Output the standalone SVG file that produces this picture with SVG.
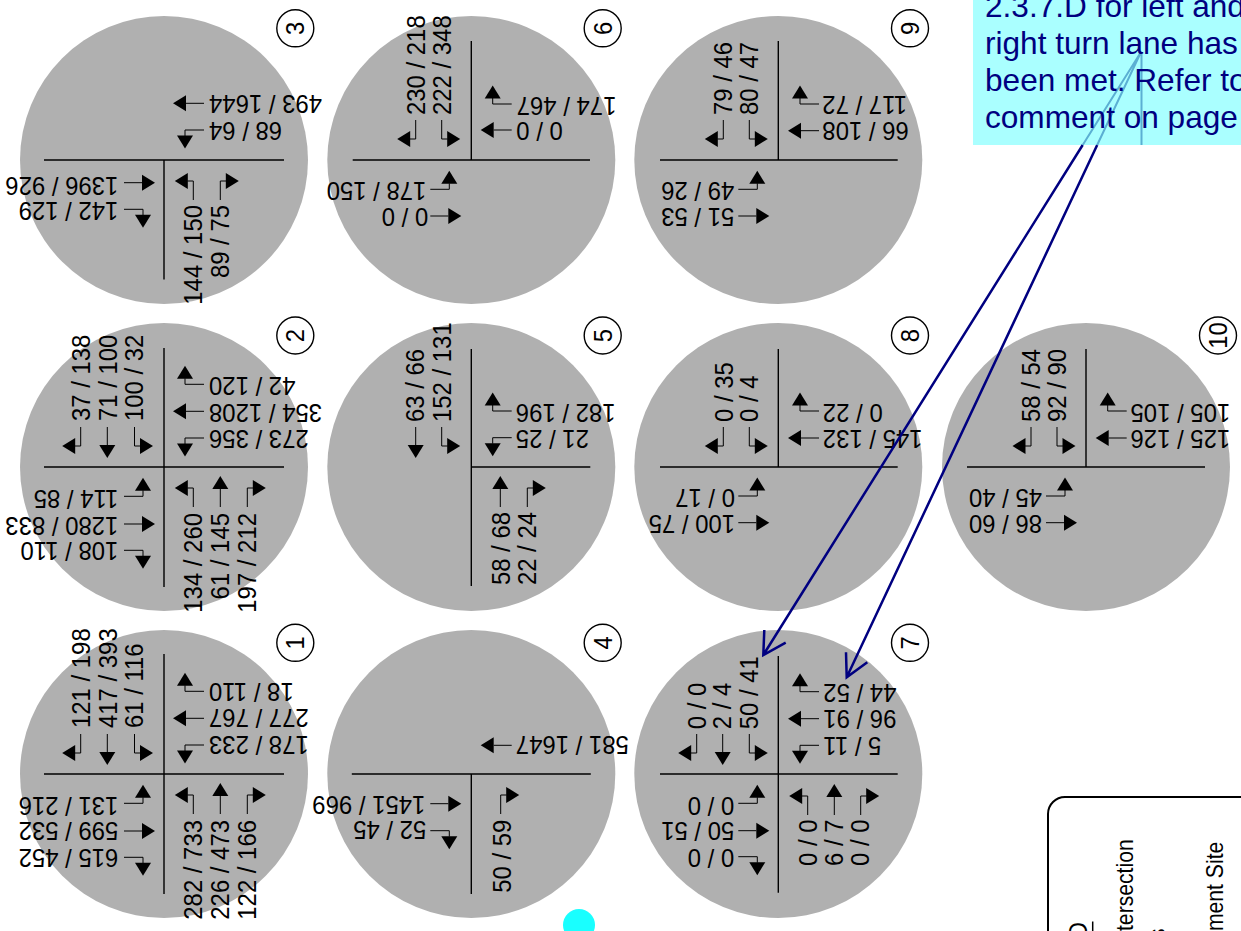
<svg xmlns="http://www.w3.org/2000/svg" width="1241" height="931" viewBox="0 0 1241 931">
<style>
text{font-family:"Liberation Sans",Arial,sans-serif;font-size:26px;fill:#000}
.a{text-anchor:start}
.b{text-anchor:end}
.m{text-anchor:middle}
.big{fill:#b0b0b0}
.x{stroke:#000;stroke-width:1.4;fill:none}
.num{fill:#fff;stroke:#000;stroke-width:1.4}
.s{stroke:#000;stroke-width:1;fill:none}
.lg{font-size:23px}
.note{font-size:31.600px;fill:#000080}
.c{stroke:#000080;stroke-width:2.5;fill:none}
.cl{stroke:#5bafd3;stroke-width:2;fill:none}
</style>
<defs>
<g id="t"><path class="s" d="M0 0V18"/><path d="M-8 18H8L0 31z"/></g>
<g id="r"><path class="s" d="M0 0V19H6"/><path d="M5.500 11V27L18.500 19z"/></g>
<g id="l"><path class="s" d="M0 0V19H-6"/><path d="M-5.500 11V27L-18.500 19z"/></g>
</defs>

<g id="legend">
<rect x="1048" y="797" width="300" height="300" rx="17" fill="#fff" stroke="#000" stroke-width="2"/>
<text class="b" transform="translate(1087 922) rotate(-90) scale(.92 1)">D</text>
<path d="M1092.700 921.500V931" stroke="#000" stroke-width="1.500"/>
<text class="a lg" transform="translate(1133.300 931) rotate(-90) scale(.92 1)">tersection</text>
<text class="b lg" transform="translate(1165 928.500) rotate(-90) scale(.92 1)">s</text>
<text class="a lg" transform="translate(1223.300 931) rotate(-90) scale(.92 1)">ment Site</text>
</g>

<g id="intersection-1" transform="translate(164 774)">
<circle class="big" r="144"/>
<path class="x" d="M-120 0H120M0 -120V120"/>
<use href="#l" transform="translate(-83.300 -40)"/><use href="#t" transform="translate(-56.700 -40)"/><use href="#r" transform="translate(-29.500 -40)"/>
<use href="#r" transform="translate(29.300 40) rotate(180)"/><use href="#t" transform="translate(56.300 40) rotate(180)"/><use href="#l" transform="translate(83.300 40) rotate(180)"/>
<use href="#r" transform="translate(-40 29.300) rotate(-90)"/><use href="#t" transform="translate(-40 57) rotate(-90)"/><use href="#l" transform="translate(-40 83.300) rotate(-90)"/>
<use href="#l" transform="translate(40 -82.700) rotate(90)"/><use href="#t" transform="translate(40 -55.700) rotate(90)"/><use href="#r" transform="translate(40 -29) rotate(90)"/>
<text class="a" transform="translate(-74 -46) rotate(-90) scale(.92 1)">121 / 198</text>
<text class="a" transform="translate(-47.500 -46) rotate(-90) scale(.92 1)">417 / 393</text>
<text class="a" transform="translate(-21 -46) rotate(-90) scale(.92 1)">61 / 116</text>
<text class="b" transform="translate(38.300 46) rotate(-90) scale(.92 1)">282 / 733</text>
<text class="b" transform="translate(65.300 46) rotate(-90) scale(.92 1)">226 / 473</text>
<text class="b" transform="translate(91.700 46) rotate(-90) scale(.92 1)">122 / 166</text>
<text class="a" transform="translate(-45.700 22.700) rotate(180) scale(.92 1)">131 / 216</text>
<text class="a" transform="translate(-45.700 48.300) rotate(180) scale(.92 1)">599 / 532</text>
<text class="a" transform="translate(-45.700 75) rotate(180) scale(.92 1)">615 / 452</text>
<text class="b" transform="translate(45 -90.700) rotate(180) scale(.92 1)">18 / 110</text>
<text class="b" transform="translate(45 -64.700) rotate(180) scale(.92 1)">277 / 767</text>
<text class="b" transform="translate(45 -38) rotate(180) scale(.92 1)">178 / 233</text>
<circle class="num" cx="131.300" cy="-131.200" r="18.500"/>
<text class="m" transform="translate(140.300 -131.200) rotate(-90) scale(.92 1)">1</text>
</g>

<g id="intersection-2" transform="translate(164 467)">
<circle class="big" r="144"/>
<path class="x" d="M-120 0H120M0 -119V120"/>
<use href="#l" transform="translate(-83.300 -40)"/><use href="#t" transform="translate(-56.700 -40)"/><use href="#r" transform="translate(-29.500 -40)"/>
<use href="#r" transform="translate(29.300 40) rotate(180)"/><use href="#t" transform="translate(56.300 40) rotate(180)"/><use href="#l" transform="translate(83.300 40) rotate(180)"/>
<use href="#r" transform="translate(-40 29.300) rotate(-90)"/><use href="#t" transform="translate(-40 57) rotate(-90)"/><use href="#l" transform="translate(-40 83.300) rotate(-90)"/>
<use href="#l" transform="translate(40 -82.700) rotate(90)"/><use href="#t" transform="translate(40 -55.700) rotate(90)"/><use href="#r" transform="translate(40 -29) rotate(90)"/>
<text class="a" transform="translate(-74 -46) rotate(-90) scale(.92 1)">37 / 138</text>
<text class="a" transform="translate(-47.500 -46) rotate(-90) scale(.92 1)">71 / 100</text>
<text class="a" transform="translate(-21 -46) rotate(-90) scale(.92 1)">100 / 32</text>
<text class="b" transform="translate(38.300 46) rotate(-90) scale(.92 1)">134 / 260</text>
<text class="b" transform="translate(65.300 46) rotate(-90) scale(.92 1)">61 / 145</text>
<text class="b" transform="translate(91.700 46) rotate(-90) scale(.92 1)">197 / 212</text>
<text class="a" transform="translate(-45.700 23) rotate(180) scale(.92 1)">114 / 85</text>
<text class="a" transform="translate(-45.700 49.500) rotate(180) scale(.92 1)">1280 / 833</text>
<text class="a" transform="translate(-45.700 75) rotate(180) scale(.92 1)">108 / 110</text>
<text class="b" transform="translate(45 -90) rotate(180) scale(.92 1)">42 / 120</text>
<text class="b" transform="translate(45 -63.500) rotate(180) scale(.92 1)">354 / 1208</text>
<text class="b" transform="translate(45 -37.500) rotate(180) scale(.92 1)">273 / 356</text>
<circle class="num" cx="131.300" cy="-131.500" r="18.500"/>
<text class="m" transform="translate(140.300 -131.500) rotate(-90) scale(.92 1)">2</text>
</g>

<g id="intersection-3" transform="translate(164 160)">
<circle class="big" r="144"/>
<path class="x" d="M-120 0H120M0 0V119.500"/>
<use href="#r" transform="translate(29.300 40) rotate(180)"/><use href="#l" transform="translate(56.300 40) rotate(180)"/>
<use href="#t" transform="translate(-40 22.700) rotate(-90)"/><use href="#l" transform="translate(-40 49.300) rotate(-90)"/>
<use href="#t" transform="translate(40 -56.700) rotate(90)"/><use href="#r" transform="translate(40 -30) rotate(90)"/>
<text class="b" transform="translate(38.300 45) rotate(-90) scale(.92 1)">144 / 150</text>
<text class="b" transform="translate(65.300 45) rotate(-90) scale(.92 1)">89 / 75</text>
<text class="a" transform="translate(-45.700 16.700) rotate(180) scale(.92 1)">1396 / 926</text>
<text class="a" transform="translate(-45.700 41.700) rotate(180) scale(.92 1)">142 / 129</text>
<text class="b" transform="translate(45 -65) rotate(180) scale(.92 1)">493 / 1644</text>
<text class="b" transform="translate(45 -38) rotate(180) scale(.92 1)">68 / 64</text>
<circle class="num" cx="131.300" cy="-131.700" r="18.500"/>
<text class="m" transform="translate(140.300 -131.700) rotate(-90) scale(.92 1)">3</text>
</g>

<g id="intersection-4" transform="translate(471.300 774)">
<circle class="big" r="144"/>
<path class="x" d="M-119.500 0H119.500M0 0V120"/>
<use href="#l" transform="translate(29.400 40) rotate(180)"/>
<use href="#t" transform="translate(-41 29.700) rotate(-90)"/><use href="#l" transform="translate(-41 56.700) rotate(-90)"/>
<use href="#t" transform="translate(40.400 -28.700) rotate(90)"/>
<text class="b" transform="translate(39.400 45.700) rotate(-90) scale(.92 1)">50 / 59</text>
<text class="a" transform="translate(-46 21.700) rotate(180) scale(.92 1)">1451 / 969</text>
<text class="a" transform="translate(-45 47.300) rotate(180) scale(.92 1)">52 / 45</text>
<text class="b" transform="translate(44.500 -37.700) rotate(180) scale(.92 1)">581 / 1647</text>
<circle class="num" cx="131.400" cy="-131.200" r="18.500"/>
<text class="m" transform="translate(140.400 -131.200) rotate(-90) scale(.92 1)">4</text>
</g>

<g id="intersection-5" transform="translate(471.300 467)">
<circle class="big" r="144"/>
<path class="x" d="M0 0H119M0 -118V119"/>
<use href="#t" transform="translate(-55.600 -40)"/><use href="#r" transform="translate(-29.600 -40)"/>
<use href="#t" transform="translate(29 40) rotate(180)"/><use href="#l" transform="translate(56 40) rotate(180)"/>
<use href="#l" transform="translate(40.400 -56) rotate(90)"/><use href="#r" transform="translate(40.400 -29.300) rotate(90)"/>
<text class="a" transform="translate(-47.300 -45) rotate(-90) scale(.92 1)">63 / 66</text>
<text class="a" transform="translate(-20.600 -45) rotate(-90) scale(.92 1)">152 / 131</text>
<text class="b" transform="translate(38.700 45) rotate(-90) scale(.92 1)">58 / 68</text>
<text class="b" transform="translate(64.700 45) rotate(-90) scale(.92 1)">22 / 24</text>
<text class="b" transform="translate(44.500 -63.300) rotate(180) scale(.92 1)">182 / 196</text>
<text class="b" transform="translate(44.500 -37.300) rotate(180) scale(.92 1)">21 / 25</text>
<circle class="num" cx="131.400" cy="-131.500" r="18.500"/>
<text class="m" transform="translate(140.400 -131.500) rotate(-90) scale(.92 1)">5</text>
</g>

<g id="intersection-6" transform="translate(471.300 160)">
<circle class="big" r="144"/>
<path class="x" d="M-118.600 0H118.700M0 -119V0"/>
<use href="#l" transform="translate(-55.600 -40)"/><use href="#r" transform="translate(-29.600 -40)"/>
<use href="#r" transform="translate(-41 29.300) rotate(-90)"/><use href="#t" transform="translate(-41 56) rotate(-90)"/>
<use href="#l" transform="translate(40.400 -56) rotate(90)"/><use href="#t" transform="translate(40.400 -30) rotate(90)"/>
<text class="a" transform="translate(-46.300 -45) rotate(-90) scale(.92 1)">230 / 218</text>
<text class="a" transform="translate(-20.300 -45) rotate(-90) scale(.92 1)">222 / 348</text>
<text class="a" transform="translate(-45 21.700) rotate(180) scale(.92 1)">178 / 150</text>
<text class="a" transform="translate(-43 48) rotate(180) scale(.92 1)">0 / 0</text>
<text class="b" transform="translate(45.400 -63.300) rotate(180) scale(.92 1)">174 / 467</text>
<text class="b" transform="translate(45 -38.300) rotate(180) scale(.92 1)">0 / 0</text>
<circle class="num" cx="131.400" cy="-131.700" r="18.500"/>
<text class="m" transform="translate(140.400 -131.700) rotate(-90) scale(.92 1)">6</text>
</g>

<g id="intersection-7" transform="translate(778.300 774)">
<circle class="big" r="144"/>
<path class="x" d="M-118.300 0H119.400M0 -118V118.700"/>
<use href="#l" transform="translate(-81.600 -40)"/><use href="#t" transform="translate(-55.600 -40)"/><use href="#r" transform="translate(-29 -40)"/>
<use href="#r" transform="translate(29.400 41) rotate(180)"/><use href="#t" transform="translate(56 41) rotate(180)"/><use href="#l" transform="translate(82.400 41) rotate(180)"/>
<use href="#r" transform="translate(-40 29.300) rotate(-90)"/><use href="#t" transform="translate(-40 56.700) rotate(-90)"/><use href="#l" transform="translate(-40 82.700) rotate(-90)"/>
<use href="#l" transform="translate(40.700 -82.300) rotate(90)"/><use href="#t" transform="translate(40.700 -55.300) rotate(90)"/><use href="#r" transform="translate(40.700 -28.700) rotate(90)"/>
<text class="a" transform="translate(-72.300 -44.700) rotate(-90) scale(.92 1)">0 / 0</text>
<text class="a" transform="translate(-47.300 -44.700) rotate(-90) scale(.92 1)">2 / 4</text>
<text class="a" transform="translate(-20 -44.700) rotate(-90) scale(.92 1)">50 / 41</text>
<text class="b" transform="translate(38.400 45.400) rotate(-90) scale(.92 1)">0 / 0</text>
<text class="b" transform="translate(64.400 45.400) rotate(-90) scale(.92 1)">6 / 7</text>
<text class="b" transform="translate(90.400 45.400) rotate(-90) scale(.92 1)">0 / 0</text>
<text class="a" transform="translate(-44 22.700) rotate(180) scale(.92 1)">0 / 0</text>
<text class="a" transform="translate(-44 48.300) rotate(180) scale(.92 1)">50 / 51</text>
<text class="a" transform="translate(-44 75) rotate(180) scale(.92 1)">0 / 0</text>
<text class="b" transform="translate(45 -90) rotate(180) scale(.92 1)">44 / 52</text>
<text class="b" transform="translate(45 -64) rotate(180) scale(.92 1)">96 / 91</text>
<text class="b" transform="translate(45 -37.300) rotate(180) scale(.92 1)">5 / 11</text>
<circle class="num" cx="131.700" cy="-131.200" r="18.500"/>
<text class="m" transform="translate(140.700 -131.200) rotate(-90) scale(.92 1)">7</text>
</g>

<g id="intersection-8" transform="translate(778.300 467)">
<circle class="big" r="144"/>
<path class="x" d="M-118.300 0H119.400M0 -118V0"/>
<use href="#l" transform="translate(-55 -40)"/><use href="#r" transform="translate(-29 -40)"/>
<use href="#r" transform="translate(-40 29) rotate(-90)"/><use href="#t" transform="translate(-40 55.700) rotate(-90)"/>
<use href="#l" transform="translate(40.700 -56) rotate(90)"/><use href="#t" transform="translate(40.700 -29) rotate(90)"/>
<text class="a" transform="translate(-45.500 -45) rotate(-90) scale(.92 1)">0 / 35</text>
<text class="a" transform="translate(-20 -45) rotate(-90) scale(.92 1)">0 / 4</text>
<text class="a" transform="translate(-43.300 22) rotate(180) scale(.92 1)">0 / 17</text>
<text class="a" transform="translate(-43.300 48) rotate(180) scale(.92 1)">100 / 75</text>
<text class="b" transform="translate(44.500 -63.300) rotate(180) scale(.92 1)">0 / 22</text>
<text class="b" transform="translate(44.500 -37.300) rotate(180) scale(.92 1)">145 / 132</text>
<circle class="num" cx="131.700" cy="-131.500" r="18.500"/>
<text class="m" transform="translate(140.700 -131.500) rotate(-90) scale(.92 1)">8</text>
</g>

<g id="intersection-9" transform="translate(778.300 160)">
<circle class="big" r="144"/>
<path class="x" d="M-118.300 0H119.400M0 -119V0"/>
<use href="#l" transform="translate(-55 -40)"/><use href="#r" transform="translate(-29 -40)"/>
<use href="#r" transform="translate(-40 29.300) rotate(-90)"/><use href="#t" transform="translate(-40 56) rotate(-90)"/>
<use href="#l" transform="translate(40.700 -56) rotate(90)"/><use href="#t" transform="translate(40.700 -29.300) rotate(90)"/>
<text class="a" transform="translate(-46.600 -45) rotate(-90) scale(.92 1)">79 / 46</text>
<text class="a" transform="translate(-20 -45) rotate(-90) scale(.92 1)">80 / 47</text>
<text class="a" transform="translate(-44 21.700) rotate(180) scale(.92 1)">49 / 26</text>
<text class="a" transform="translate(-44 48) rotate(180) scale(.92 1)">51 / 53</text>
<text class="b" transform="translate(44 -64) rotate(180) scale(.92 1)">117 / 72</text>
<text class="b" transform="translate(44 -38.300) rotate(180) scale(.92 1)">66 / 108</text>
<circle class="num" cx="131.700" cy="-131.700" r="18.500"/>
<text class="m" transform="translate(140.700 -131.700) rotate(-90) scale(.92 1)">9</text>
</g>

<g id="intersection-10" transform="translate(1086 467)">
<circle class="big" r="144"/>
<path class="x" d="M-119 0H119M0 -118V0"/>
<use href="#l" transform="translate(-55 -40)"/><use href="#r" transform="translate(-29 -40)"/>
<use href="#r" transform="translate(-40 29) rotate(-90)"/><use href="#t" transform="translate(-40 55.700) rotate(-90)"/>
<use href="#l" transform="translate(40.700 -56) rotate(90)"/><use href="#t" transform="translate(40.700 -29) rotate(90)"/>
<text class="a" transform="translate(-46 -45) rotate(-90) scale(.92 1)">58 / 54</text>
<text class="a" transform="translate(-20 -45) rotate(-90) scale(.92 1)">92 / 90</text>
<text class="a" transform="translate(-44 22) rotate(180) scale(.92 1)">45 / 40</text>
<text class="a" transform="translate(-44 48) rotate(180) scale(.92 1)">86 / 60</text>
<text class="b" transform="translate(44.500 -63.300) rotate(180) scale(.92 1)">105 / 105</text>
<text class="b" transform="translate(44.500 -37.300) rotate(180) scale(.92 1)">125 / 126</text>
<circle class="num" cx="132" cy="-131.500" r="18.500"/>
<text class="m" transform="translate(141 -131.500) rotate(-90) scale(.92 1)">10</text>
</g>

<circle id="dot" cx="579" cy="925" r="16" fill="#19ffff"/>

<rect id="callout-box" x="973" y="-40" width="300" height="185" fill="#aaffff"/>

<g id="connectors">
<path class="c" d="M1082.700 145L763.300 655M764.300 630L763.300 655L785.700 642.700"/>
<path class="c" d="M1097.200 145L846.700 677.300M846 652.300L846.700 677.300L867.300 662.300"/>
<path class="cl" d="M1082.700 145L1141 52L1097.200 145M1141.500 52V145"/>
</g>

<g id="callout-text">
<text class="note" x="985" y="17">2.3.7.D for left and</text>
<text class="note" x="985" y="54">right turn lane has</text>
<text class="note" x="985" y="91">been met. Refer to</text>
<text class="note" x="985" y="128">comment on page</text>
</g>
</svg>
